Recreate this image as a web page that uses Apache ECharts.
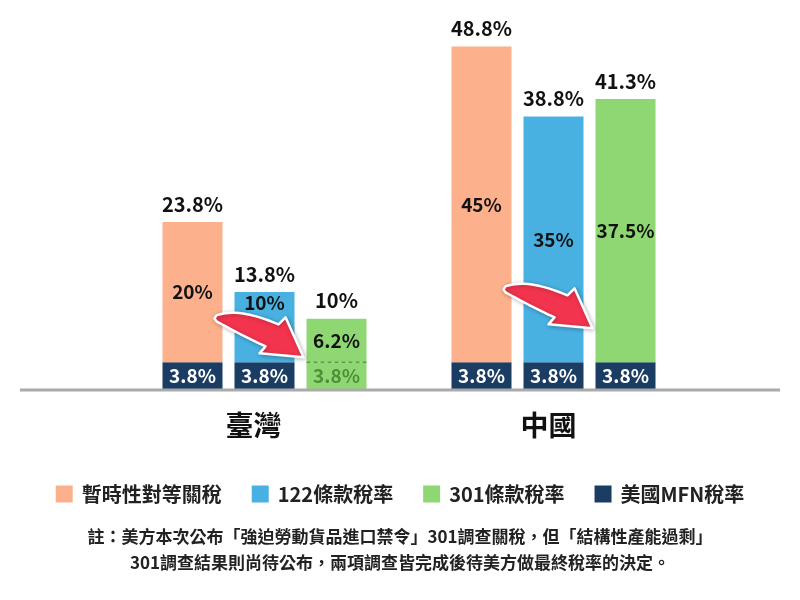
<!DOCTYPE html>
<html>
<head>
<meta charset="utf-8">
<script src="https://cdn.jsdelivr.net/npm/echarts@6/dist/echarts.min.js"></script>
<style>
  html, body { margin: 0; padding: 0; background: #fff; }
  #main { width: 800px; height: 600px; }
</style>
</head>
<body>
<div id="main"></div>
<script>
// chart data
const categories = ['臺灣', '中國'];
const mfnRate = [3.8, 3.8];
const reciprocalRate = [20, 45];
const sec122Rate = [10, 35];
const sec301Rate = [6.2, 37.5];
const legendNames = ['暫時性對等關稅', '122條款稅率', '301條款稅率', '美國MFN稅率'];
const noteLines = [
  '註：美方本次公布「強迫勞動貨品進口禁令」301調查關稅，但「結構性產能過剩」',
  '301調查結果則尚待公布，兩項調查皆完成後待美方做最終稅率的決定。'
];

const FONT = '"Noto Sans CJK TC", "Noto Sans", sans-serif';
const colors = {
  reciprocal: '#fcb08b',
  sec122: '#48b1e1',
  sec301: '#8fd773',
  mfn: '#1b3d63',
  arrow: '#f2344e'
};

function pct(v) {
  return parseFloat(v.toFixed(1)) + '%';
}

function baseSeries(stack, data) {
  return {
    name: '美國MFN稅率',
    type: 'bar',
    stack: stack,
    barWidth: 60,
    barGap: '20%',
    itemStyle: { color: colors.mfn },
    label: {
      show: true, position: 'inside', color: '#fff',
      fontFamily: FONT, fontSize: 19, fontWeight: 'bold',
      formatter: p => pct(p.value)
    },
    data: data
  };
}

function topSeries(name, stack, color, data) {
  return {
    name: name,
    type: 'bar',
    stack: stack,
    barWidth: 60,
    itemStyle: { color: color },
    label: {
      show: true, position: 'inside', color: '#111',
      fontFamily: FONT, fontSize: 19, fontWeight: 'bold',
      formatter: p => pct(p.value)
    },
    data: data
  };
}

// zero-height series that only carries the total label above each stack
function totalSeries(stack, top) {
  return {
    name: 'total-' + stack,
    type: 'bar',
    stack: stack,
    barWidth: 60,
    silent: true,
    itemStyle: { color: 'transparent' },
    label: {
      show: true, position: 'top', distance: 8, color: '#111',
      fontFamily: FONT, fontSize: 20, fontWeight: 'bold',
      formatter: p => pct(mfnRate[p.dataIndex] + top[p.dataIndex])
    },
    data: categories.map(() => 0)
  };
}

// Taiwan's 301 bar has its base drawn green
const base301 = mfnRate.map((v, i) => i === 0 ? {
  value: v,
  itemStyle: { color: colors.sec301 },
  label: { color: '#4f8f3a' }
} : v);

// Taiwan's 122 label sits near the top of its segment
const sec122Data = sec122Rate.map((v, i) => i === 0 ?
  { value: v, label: { position: 'insideTop', distance: 1 } } : v);

const labelShift = [22, 10];
const axisCats = categories.map((c, i) => ({
  value: c, textStyle: { padding: [0, labelShift[i], 0, 0] }
}));

const chart = echarts.init(document.getElementById('main'));

const option = {
  animation: false,
  title: noteLines.map((t, i) => ({
    text: t,
    left: 'center',
    top: 523 + i * 26,
    textStyle: {
      fontFamily: FONT, fontSize: 17, fontWeight: 'bold', color: '#222'
    }
  })),
  legend: {
    data: legendNames,
    top: 479,
    left: 'center',
    icon: 'rect',
    itemWidth: 17,
    itemHeight: 17,
    itemGap: 30,
    textStyle: {
      fontFamily: FONT, fontSize: 20, fontWeight: 'bold', color: '#222',
      padding: [0, 0, 0, 4]
    },
    selectedMode: false
  },
  grid: { left: 120, right: 102, top: 38, bottom: 211 },
  xAxis: {
    type: 'category',
    data: axisCats,
    axisLine: { show: false },
    axisTick: { show: false },
    axisLabel: {
      margin: 22, color: '#111',
      fontFamily: FONT, fontSize: 28, fontWeight: 'bold'
    }
  },
  yAxis: {
    type: 'value',
    min: 0,
    max: 50,
    show: false,
    splitLine: { show: false }
  },
  series: [
    baseSeries('a', mfnRate),
    topSeries('暫時性對等關稅', 'a', colors.reciprocal, reciprocalRate),
    totalSeries('a', reciprocalRate),
    baseSeries('b', mfnRate),
    topSeries('122條款稅率', 'b', colors.sec122, sec122Data),
    totalSeries('b', sec122Rate),
    baseSeries('c', base301),
    topSeries('301條款稅率', 'c', colors.sec301, sec301Rate),
    totalSeries('c', sec301Rate)
  ]
};

chart.setOption(option);

// decorations: baseline, dashed split line and the red arrows
function barRect(seriesIndex, dataIndex) {
  const l = chart.getModel().getSeriesByIndex(seriesIndex).getData().getItemLayout(dataIndex);
  return {
    x: l.x, width: l.width,
    top: Math.min(l.y, l.y + l.height),
    bottom: Math.max(l.y, l.y + l.height)
  };
}

function quad(p0, c, p1, n) {
  const out = [];
  for (let k = 1; k <= n; k++) {
    const t = k / n, u = 1 - t;
    out.push([u * u * p0[0] + 2 * u * t * c[0] + t * t * p1[0],
              u * u * p0[1] + 2 * u * t * c[1] + t * t * p1[1]]);
  }
  return out;
}

// fat curved arrow, outline relative to its tip
function arrowPoints(tx, ty) {
  let pts = [[0, 0], [-44, -4], [-38, -11]];
  pts = pts.concat(quad([-38, -11], [-62, -22], [-87, -36], 16));
  pts.push([-89, -39]);
  pts.push([-87, -42]);
  pts = pts.concat(quad([-87, -42], [-65, -50], [-25, -33], 16));
  pts.push([-18, -40]);
  return pts.map(p => [tx + p[0], ty + p[1]]);
}

const arrowLift = [5, 34];
const graphics = [];

const axisY = barRect(0, 0).bottom + 1;
graphics.push({
  type: 'line', z: 10,
  shape: { x1: 20, y1: axisY, x2: 780, y2: axisY },
  style: { stroke: '#aaaaaa', lineWidth: 3 }
});

const g301 = barRect(6, 0);
graphics.push({
  type: 'line', z: 10,
  shape: { x1: g301.x, y1: g301.top, x2: g301.x + g301.width, y2: g301.top },
  style: { stroke: '#5e9d48', lineWidth: 1.5, lineDash: [4, 3] }
});

categories.forEach((c, i) => {
  const green = barRect(6, i);
  const tx = green.x - 3;
  const ty = green.top - arrowLift[i];
  graphics.push({
    type: 'polygon', z: 20,
    shape: { points: arrowPoints(tx, ty) },
    style: {
      fill: colors.arrow, stroke: '#fff', lineWidth: 2.5, lineJoin: 'round',
      shadowBlur: 4, shadowColor: 'rgba(0,0,0,0.25)', shadowOffsetX: 1, shadowOffsetY: 1
    }
  });
});

chart.setOption({ graphic: graphics });
</script>
</body>
</html>
